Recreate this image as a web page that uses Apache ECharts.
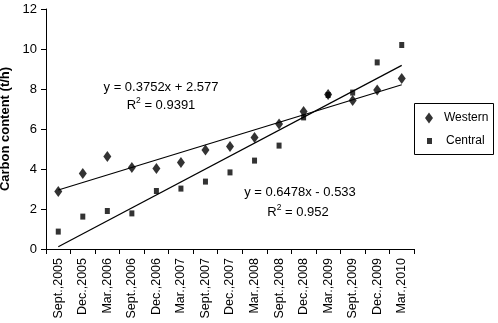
<!DOCTYPE html>
<html>
<head>
<meta charset="utf-8">
<script src="https://cdn.jsdelivr.net/npm/echarts@6/dist/echarts.min.js"></script>
<style>html,body{margin:0;padding:0;background:#fff;}#c{width:498px;height:323px;}</style>
</head>
<body>
<div id="c"></div>
<script>
var categories = ['Sept.,2005','Dec.,2005','Mar.,2006','Sept.,2006','Dec.,2006','Mar.,2007','Sept.,2007','Dec.,2007','Mar.,2008','Sept.,2008','Dec.,2008','Mar.,2009','Sept.,2009','Dec.,2009','Mar.,2010'];
var western = [2.87, 3.78, 4.62, 4.08, 4.03, 4.32, 4.95, 5.12, 5.58, 6.25, 6.87, 7.72, 7.42, 7.95, 8.52];
var central = [0.87, 1.62, 1.90, 1.78, 2.90, 3.02, 3.37, 3.83, 4.42, 5.17, 6.58, 7.70, 7.82, 9.33, 10.20];
var westernTrend = [[0, 2.95], [14, 8.21]];
var centralTrend = [[0, 0.11], [14, 9.18]];
var yTicks = {min: 0, max: 12, interval: 2};
var westernEq = ['y = 0.3752x + 2.577', '0.9391'];
var centralEq = ['y = 0.6478x - 0.533', '0.952'];

var FONT = '"Liberation Sans", Arial, sans-serif';
function r2(v) {
  return {
    text: '{r|R}{s|2}{r| = ' + v + '}',
    rich: {
      r: {fill: '#000', fontSize: 13, fontFamily: FONT, lineHeight: 16, verticalAlign: 'bottom'},
      s: {fill: '#000', fontSize: 8.5, fontFamily: FONT, lineHeight: 16, verticalAlign: 'top', padding: [0, 0, 6, 0]}
    },
    textAlign: 'center', textVerticalAlign: 'middle'
  };
}
var chart = echarts.init(document.getElementById('c'), null, {renderer: 'canvas'});
chart.setOption({
  animation: false,
  backgroundColor: '#fff',
  grid: {left: 46, right: 84, top: 9, bottom: 74, containLabel: false, outerBoundsMode: 'none'},
  xAxis: {
    type: 'category',
    data: categories,
    boundaryGap: true,
    axisLine: {lineStyle: {color: '#000', width: 1}},
    axisTick: {show: true, length: 5, interval: 0, lineStyle: {color: '#000'}},
    axisLabel: {interval: 0, rotate: 90, margin: 9, color: '#000', fontSize: 12.5, fontFamily: FONT},
    splitLine: {show: false}
  },
  yAxis: {
    type: 'value',
    min: yTicks.min, max: yTicks.max, interval: yTicks.interval,
    name: 'Carbon content (t/h)',
    nameLocation: 'middle',
    nameGap: 32,
    nameTextStyle: {color: '#000', fontSize: 13, fontWeight: 'bold', fontFamily: FONT},
    axisLine: {show: true, lineStyle: {color: '#000', width: 1}},
    axisTick: {show: true, length: 5, lineStyle: {color: '#000'}},
    axisLabel: {color: '#000', fontSize: 13, fontFamily: FONT, margin: 9},
    splitLine: {show: false}
  },
  legend: [
    {
      data: [{name: 'Western', icon: 'diamond'}],
      left: 425, top: 112, itemWidth: 8, itemHeight: 11, padding: 0,
      textStyle: {color: '#000', fontSize: 12, fontFamily: FONT, padding: [0, 0, 0, 6]}
    },
    {
      data: [{name: 'Central', icon: 'rect'}],
      left: 427, top: 135, itemWidth: 5, itemHeight: 6, padding: 0,
      textStyle: {color: '#000', fontSize: 12, fontFamily: FONT, padding: [0, 0, 0, 9]}
    }
  ],
  graphic: [
    {type: 'rect', shape: {x: 414.5, y: 103.5, width: 79, height: 51}, style: {fill: 'none', stroke: '#000', lineWidth: 1}, silent: true},
    {type: 'text', x: 161, y: 87.5, style: {text: westernEq[0], fill: '#000', font: '13px ' + FONT, textAlign: 'center', textVerticalAlign: 'middle'}},
    {type: 'text', x: 161, y: 104, style: r2(westernEq[1])},
    {type: 'text', x: 300, y: 192, style: {text: centralEq[0], fill: '#000', font: '13px ' + FONT, textAlign: 'center', textVerticalAlign: 'middle'}},
    {type: 'text', x: 298, y: 211, style: r2(centralEq[1])}
  ],
  series: [
    {
      name: 'Western', type: 'scatter', data: western,
      symbol: 'diamond', symbolSize: [8, 11],
      itemStyle: {color: '#000'}, z: 3
    },
    {
      name: 'Central', type: 'scatter', data: central,
      symbol: 'rect', symbolSize: [5, 6],
      itemStyle: {color: '#000'}, z: 3
    },
    {
      name: 'WesternTrend', type: 'line', data: westernTrend,
      showSymbol: false, symbol: 'none', lineStyle: {color: '#000', width: 1.2}, z: 2, silent: true
    },
    {
      name: 'CentralTrend', type: 'line', data: centralTrend,
      showSymbol: false, symbol: 'none', lineStyle: {color: '#000', width: 1.2}, z: 2, silent: true
    }
  ]
});
</script>
</body>
</html>
